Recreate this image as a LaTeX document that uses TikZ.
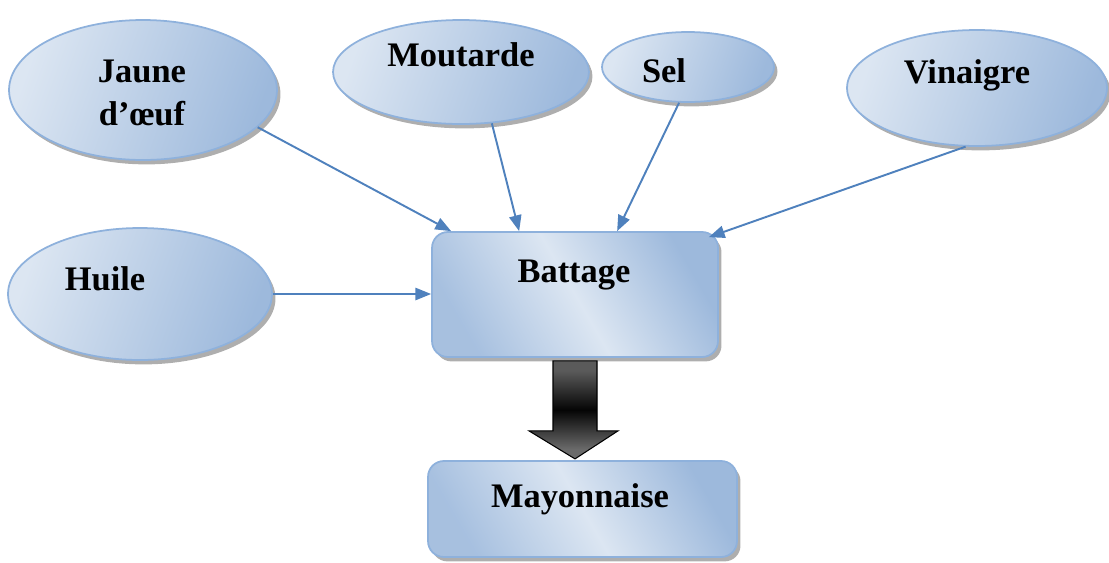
\documentclass[tikz,border=0pt]{standalone}
\usepackage{fontspec}
\setmainfont{Liberation Serif}
\usetikzlibrary{shapes.geometric,shadows,arrows.meta,calc}
\definecolor{lightfill}{HTML}{DCE6F2}
\definecolor{darkfill}{HTML}{9DB9DC}
\definecolor{edgeblue}{HTML}{8EB1DC}
\definecolor{linkblue}{HTML}{4F81BD}
\definecolor{arrtop}{HTML}{5A5A5A}
\definecolor{arrmid}{HTML}{050505}
\definecolor{arrbot}{HTML}{6A6A6A}
\definecolor{shadowgray}{HTML}{A0A0A0}
\pgfdeclareverticalshading{bigarrowshade}{100bp}{color(0bp)=(arrbot); color(30bp)=(arrbot); color(50bp)=(arrmid); color(70bp)=(arrtop); color(100bp)=(arrtop)}
\tikzset{
  oval/.style={ellipse, draw=edgeblue, line width=1pt, inner sep=0pt,
    left color=lightfill, right color=darkfill, shading angle=70,
    drop shadow={shadow xshift=2pt, shadow yshift=-2.5pt, fill=black!45, opacity=0.7}},
  stepbox/.style={rectangle, rounded corners=9pt, draw=edgeblue, line width=1pt, inner sep=0pt,
    left color=darkfill!90, right color=darkfill, middle color=lightfill, shading angle=120,
    drop shadow={shadow xshift=2pt, shadow yshift=-2.5pt, fill=black!45, opacity=0.7}},
  lbl/.style={anchor=base, inner sep=0pt, font=\fontsize{19.6}{24}\selectfont\bfseries},
  link/.style={draw=linkblue, line width=1.1pt, -{Triangle[length=9pt,width=7pt]}},
}
\begin{document}
\begin{tikzpicture}[x=0.02cm,y=-0.02cm]
\useasboundingbox (0,0) rectangle (1109,562);
% ellipses
\node[oval, minimum width=5.36cm, minimum height=2.8cm] (jaune) at (143,90) {};
\node[oval, minimum width=5.12cm, minimum height=2.08cm] (mout) at (461,72) {};
\node[oval, minimum width=3.44cm, minimum height=1.4cm] (sel) at (688,67) {};
\node[oval, minimum width=5.2cm, minimum height=2.32cm] (vin) at (977,88) {};
\node[oval, minimum width=5.28cm, minimum height=2.64cm] (huile) at (140,294) {};
% boxes
\node[stepbox, minimum width=5.72cm, minimum height=2.5cm] (batt) at (575,294.5) {};
\node[stepbox, minimum width=6.18cm, minimum height=1.92cm] (mayo) at (582.5,509) {};
% labels
\node[lbl] (tj1) at (142,82) {Jaune};
\node[lbl] (tj2) at (142,125) {d’œuf};
\node[lbl] (tm) at (461,66) {Moutarde};
\node[lbl] (ts) at (664,82) {Sel};
\node[lbl] (tv) at (967,83) {Vinaigre};
\node[lbl] (th) at (105,290) {Huile};
\node[lbl] (tb) at (574,282) {Battage};
\node[lbl] (tmy) at (580,507) {Mayonnaise};
% connectors
\draw[link] (jaune.-18) -- ($(batt.north west)+(20,0)$);
\draw[link] (mout.-59) -- ($(batt.north west)+(88,0)$);
\draw[link] (sel.-104) -- ($(batt.north west)+(186,0)$);
\draw[link] (vin.-101) -- ($(batt.north east)+(-10,6)$);
\draw[link] (huile.east) -- (huile.east -| batt.west);
% big arrow
\coordinate (as) at (batt.south);
\fill[shadowgray, opacity=0.8, shift={(3,4)}]
  ($(as)+(-22,3)$) -- ($(as)+(22,3)$) -- ($(as)+(22,73)$) -- ($(as)+(43,73)$)
  -- ($(as)+(0,101)$) -- ($(as)+(-46,73)$) -- ($(as)+(-22,73)$) -- cycle;
\path[shading=bigarrowshade, draw=black, line width=0.6pt]
  ($(as)+(-22,3)$) -- ($(as)+(22,3)$) -- ($(as)+(22,73)$) -- ($(as)+(43,73)$)
  -- ($(as)+(0,101)$) -- ($(as)+(-46,73)$) -- ($(as)+(-22,73)$) -- cycle;
\end{tikzpicture}
\end{document}
